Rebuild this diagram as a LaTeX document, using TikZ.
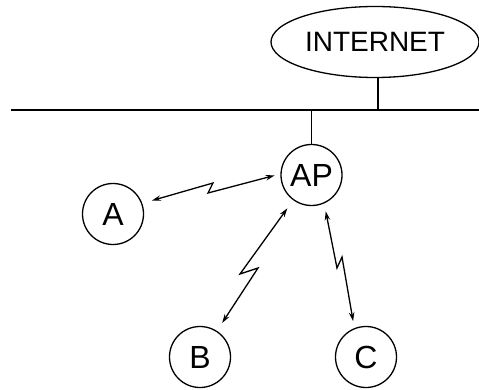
\documentclass[tikz,border=0pt]{standalone}
\usepackage{fontspec}
\setmainfont{Liberation Sans}
\usetikzlibrary{shapes.geometric,arrows.meta}
\begin{document}
\begin{tikzpicture}[x=1pt,y=-1pt,
  line width=1.3pt,
  station/.style={draw,circle,minimum size=61pt,inner sep=0pt,
    font=\fontsize{32}{32}\selectfont},
  cloud/.style={draw,ellipse,minimum width=208pt,minimum height=71pt,inner sep=0pt,
    font=\fontsize{28}{28}\selectfont},
  radio/.style={{Stealth[length=9pt,width=5.5pt]}-{Stealth[length=9pt,width=5.5pt]},
    line join=miter}]
  \useasboundingbox (0,0) rectangle (479,390);

  % wired backbone
  \coordinate (busL) at (11,110);
  \coordinate (busR) at (479,110);
  \draw (busL) -- (busR);

  \node[cloud] (net) at (375,42) {INTERNET};
  \draw ([xshift=3pt]net.south) -- ([xshift=3pt]net.south |- busL);

  % access point and stations
  \node[station] (AP) at (311.5,175) {AP};
  \draw (AP.north) -- (AP.north |- busL);

  \node[station] (A) at (113,214) {A};
  \node[station] (B) at (200,357) {B};
  \node[station] (C) at (366,357) {C};

  % wireless links, each with a lightning jog
  \coordinate (za1) at (213,183);
  \coordinate (za2) at (208,193);
  \draw[radio,shorten <=10pt,shorten >=6pt] (A.20) -- (za1) -- (za2) -- (AP.178);

  \coordinate (zb1) at (240,274);
  \coordinate (zb2) at (258,268);
  \draw[radio,shorten <=10pt,shorten >=9.5pt] (AP.234) -- (zb1) -- (zb2) -- (B.57);

  \coordinate (zc1) at (337,268);
  \coordinate (zc2) at (342,257);
  \draw[radio,shorten <=8pt,shorten >=7pt] (AP.-66) -- (zc1) -- (zc2) -- (C.112);
\end{tikzpicture}
\end{document}
